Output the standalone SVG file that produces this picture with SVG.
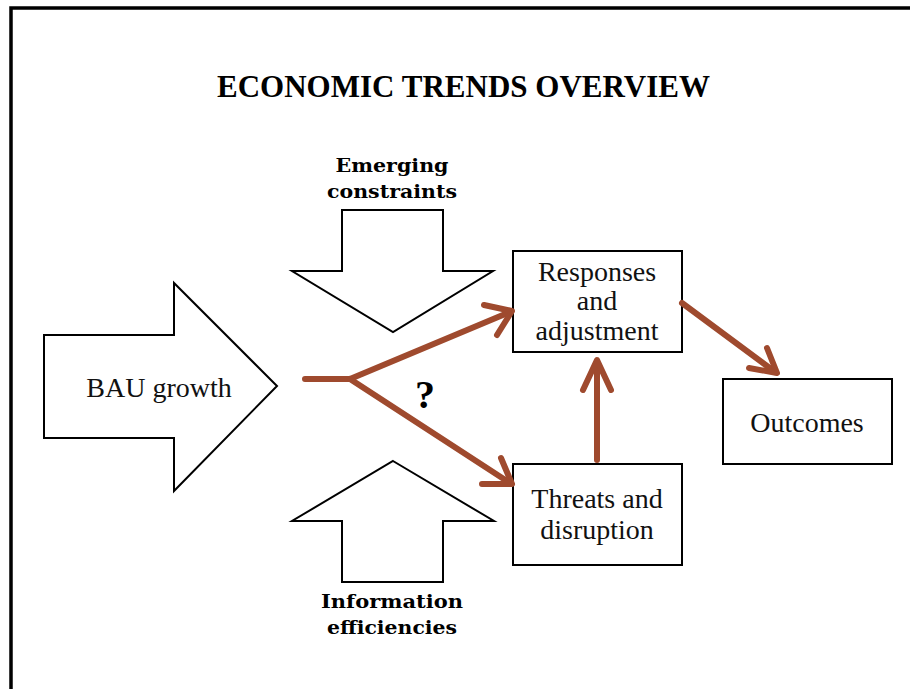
<svg xmlns="http://www.w3.org/2000/svg" width="910" height="689" viewBox="0 0 910 689">
<style>
.shape{fill:#fff;stroke:#000;stroke-width:2}
.t{font-family:"Liberation Serif","Times New Roman",serif;font-size:28px;fill:#111;text-anchor:middle}
.b{font-family:"Liberation Serif","Times New Roman",serif;font-weight:bold;fill:#000;text-anchor:middle}
.lb{font-family:"DejaVu Serif","Liberation Serif",serif;font-weight:bold;font-size:19px;fill:#000;text-anchor:middle}
.c{fill:none;stroke:#9F4A2E;stroke-width:6;stroke-linecap:round;stroke-linejoin:round}
</style>
<rect x="0" y="0" width="910" height="689" fill="#fff"/>
<rect x="11" y="8" width="930" height="720" fill="none" stroke="#000" stroke-width="3.5"/>
<text class="b" x="463.5" y="97" font-size="31" textLength="493" lengthAdjust="spacing">ECONOMIC TRENDS OVERVIEW</text>
<g id="bau">
<polygon class="shape" points="44,335 174,335 174,283 277,386 174,491 174,438 44,438"/>
<text class="t" x="159" y="397" font-size="29">BAU growth</text>
</g>
<g id="constraints">
<polygon class="shape" points="342,210 443,210 443,271 493,271 393,332 292,271 342,271"/>
<text class="lb" x="392" y="172" textLength="113" lengthAdjust="spacingAndGlyphs">Emerging</text>
<text class="lb" x="392" y="198" textLength="130" lengthAdjust="spacingAndGlyphs">constraints</text>
</g>
<g id="efficiencies">
<polygon class="shape" points="393,461 494,521 443,521 443,582 342,582 342,521 292,521"/>
<text class="lb" x="392" y="608" textLength="142" lengthAdjust="spacingAndGlyphs">Information</text>
<text class="lb" x="392" y="634" textLength="130" lengthAdjust="spacingAndGlyphs">efficiencies</text>
</g>
<g id="responses">
<rect class="shape" x="513" y="251" width="169" height="101"/>
<text class="t" x="597" y="281">Responses</text>
<text class="t" x="597" y="310">and</text>
<text class="t" x="597" y="340">adjustment</text>
</g>
<g id="threats">
<rect class="shape" x="513" y="464" width="169" height="101"/>
<text class="t" x="597" y="508">Threats and</text>
<text class="t" x="597" y="539">disruption</text>
</g>
<g id="outcomes">
<rect class="shape" x="723" y="379" width="169" height="85"/>
<text class="t" x="807" y="432" font-size="29">Outcomes</text>
</g>
<g id="connectors">
<polyline class="c" points="305,379 350,379 510,312"/>
<polyline class="c" points="350,379 510,483"/>
<polyline class="c" points="484,305 512,311 497,335"/>
<polyline class="c" points="501,458 512,484 482,484"/>
<line class="c" x1="597" y1="460" x2="597" y2="362"/>
<polyline class="c" points="583,390 597,360 611,390"/>
<line class="c" x1="682" y1="303" x2="775" y2="372"/>
<polyline class="c" points="767,348 777,373 749,368"/>
<text class="b" x="425" y="408" font-size="40">?</text>
</g>
</svg>
